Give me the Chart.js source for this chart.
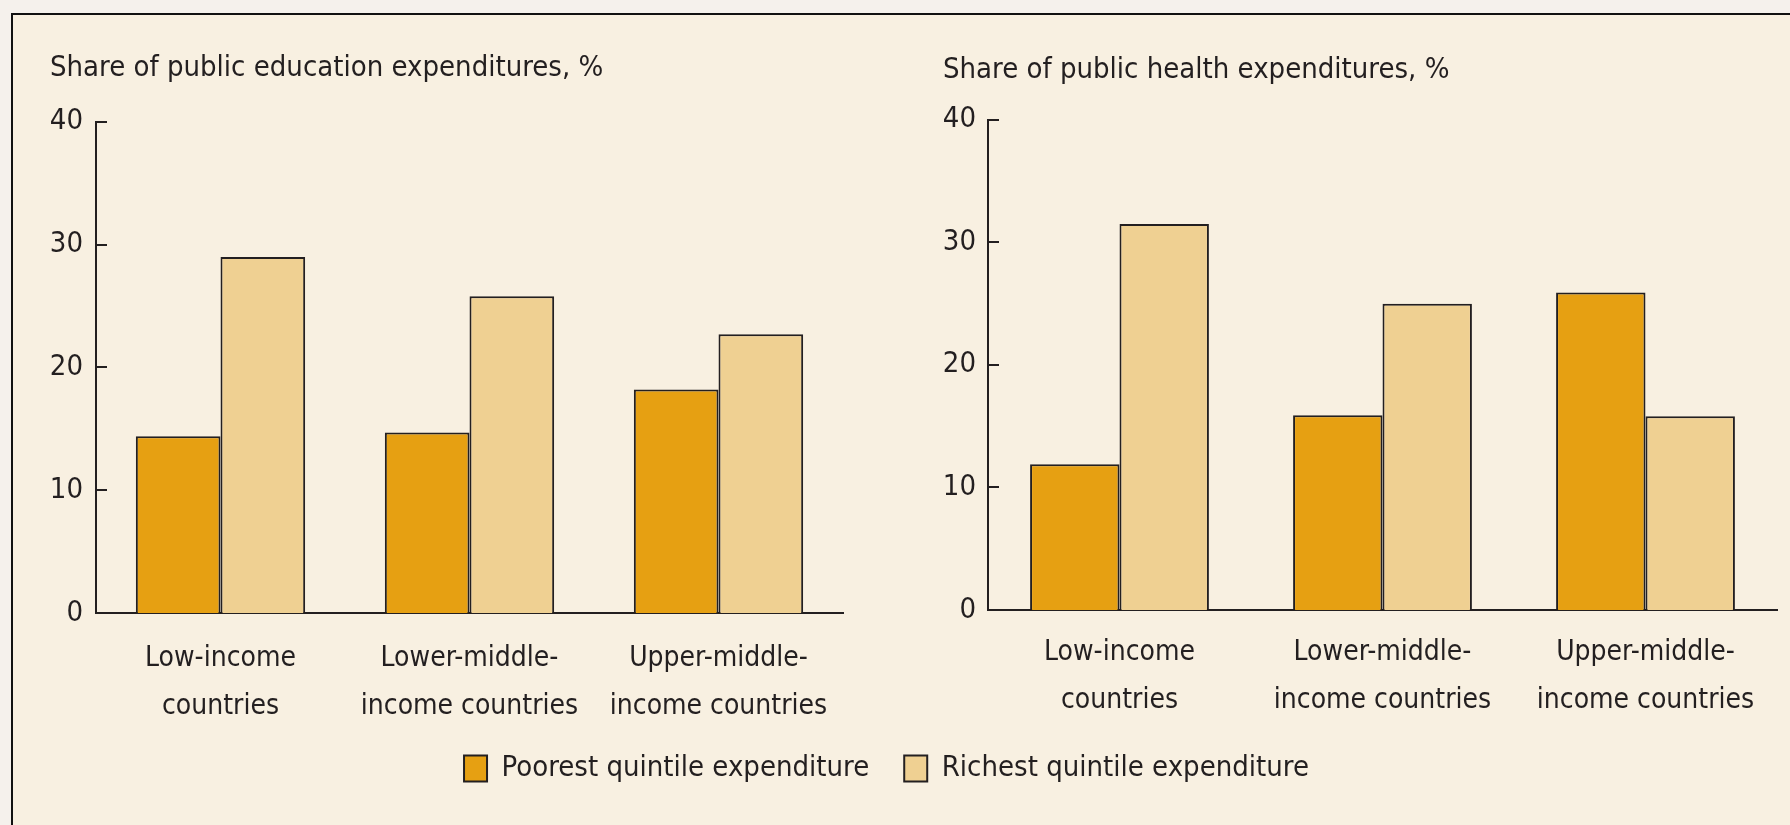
<!DOCTYPE html>
<html lang="en">
<head>
<meta charset="UTF-8">
<title>Public education and health expenditures by quintile</title>
<script src="https://cdn.jsdelivr.net/npm/chart.js"></script>
<style>
  html, body { margin:0; padding:0; }
  body { background:#f5f1ec; width:1790px; height:825px; overflow:hidden; position:relative; }
  .frame { position:absolute; left:11px; top:13px; width:1800px; height:840px; border:2px solid #111; background:#f8f0e1; }
  canvas { position:absolute; left:0; top:0; }
</style>
</head>
<body>
<div class="frame"></div>
<canvas id="edu" width="1790" height="825"></canvas>
<canvas id="health" width="1790" height="825"></canvas>
<script>
// categories and values
const categories = [['Low-income', 'countries'], ['Lower-middle-', 'income countries'], ['Upper-middle-', 'income countries']];
const seriesNames = ['Poorest quintile expenditure', 'Richest quintile expenditure'];
const eduPoorest = [14.4, 14.7, 18.2];
const eduRichest = [29.0, 25.8, 22.7];
const healthPoorest = [11.9, 15.9, 25.9];
const healthRichest = [31.5, 25.0, 15.8];
const yTicks = [0, 10, 20, 30, 40];

const INK = '#231f20';
const POOR = '#e6a012';
const RICH = '#efd092';
const FONT = '"DejaVu Sans Condensed", "Liberation Sans Narrow", sans-serif';

Chart.defaults.font.family = FONT;
Chart.defaults.font.size = 29;
Chart.defaults.color = INK;

// short ticks pointing into the plot, as in the print original
const innerTicks = {
  id: 'innerTicks',
  afterDraw(chart) {
    const y = chart.scales.y, a = chart.chartArea, ctx = chart.ctx;
    ctx.save();
    ctx.strokeStyle = INK; ctx.lineWidth = 2;
    y.ticks.forEach(t => {
      if (t.value === 0) return;
      const py = Math.round(y.getPixelForValue(t.value));
      ctx.beginPath(); ctx.moveTo(a.left, py); ctx.lineTo(a.left + 11, py); ctx.stroke();
    });
    ctx.restore();
  }
};

function makeChart(id, title, poor, rich, opt) {
  const scales = {
    x: {
      grid: { display: false, drawTicks: false },
      border: { display: true, color: INK, width: 2 },
      ticks: { padding: opt.xPad, autoSkip: false, maxRotation: 0, font: { size: 28, lineHeight: 48 / 28 } },
      afterFit: s => { s.height = 106; }
    },
    y: {
      min: 0, max: 40,
      afterBuildTicks: s => { s.ticks = yTicks.map(v => ({ value: v })); },
      grid: { display: false, drawTicks: false },
      border: { display: true, color: INK, width: 2 },
      ticks: { padding: opt.yPad, font: { size: 29 } },
      afterFit: s => { s.width = opt.yWidth; }
    }
  };
  if (opt.spacer) {
    // empty axis on the right that only reserves room for the second panel
    scales.spacer = {
      type: 'linear', position: 'right', display: true,
      grid: { display: false, drawTicks: false }, border: { display: false }, ticks: { display: false },
      afterFit: s => { s.width = opt.spacer; }
    };
  }
  return new Chart(document.getElementById(id), {
    type: 'bar',
    data: {
      labels: categories,
      datasets: [
        { label: seriesNames[0], data: poor, backgroundColor: POOR, borderColor: INK, borderWidth: 2, borderSkipped: 'start' },
        { label: seriesNames[1], data: rich, backgroundColor: RICH, borderColor: INK, borderWidth: 2, borderSkipped: 'start' }
      ]
    },
    options: {
      responsive: false,
      animation: false,
      categoryPercentage: 0.68,
      barPercentage: 1.0,
      layout: { padding: opt.padding },
      scales,
      plugins: {
        title: { display: true, text: title, align: 'start', color: INK, font: { size: 29, weight: 'normal', lineHeight: 1.2 }, padding: opt.titlePad },
        legend: {
          display: opt.legend, position: 'bottom',
          labels: { boxWidth: 23, boxHeight: 26, padding: 35, color: INK, font: { size: 29 } }
        },
        tooltip: { enabled: false }
      }
    },
    plugins: [innerTicks]
  });
}

makeChart('edu', 'Share of public education expenditures, %', eduPoorest, eduRichest, {
  padding: { top: 0, left: 50, right: 67, bottom: 32 },
  titlePad: { top: 51, bottom: 36 },
  yWidth: 46, yPad: 13, xPad: 22, spacer: 880, legend: true
});
makeChart('health', 'Share of public health expenditures, %', healthPoorest, healthRichest, {
  padding: { top: 0, left: 943, right: 13, bottom: 109 },
  titlePad: { top: 53, bottom: 32 },
  yWidth: 45, yPad: 12, xPad: 19, legend: false
});
</script>
</body>
</html>
